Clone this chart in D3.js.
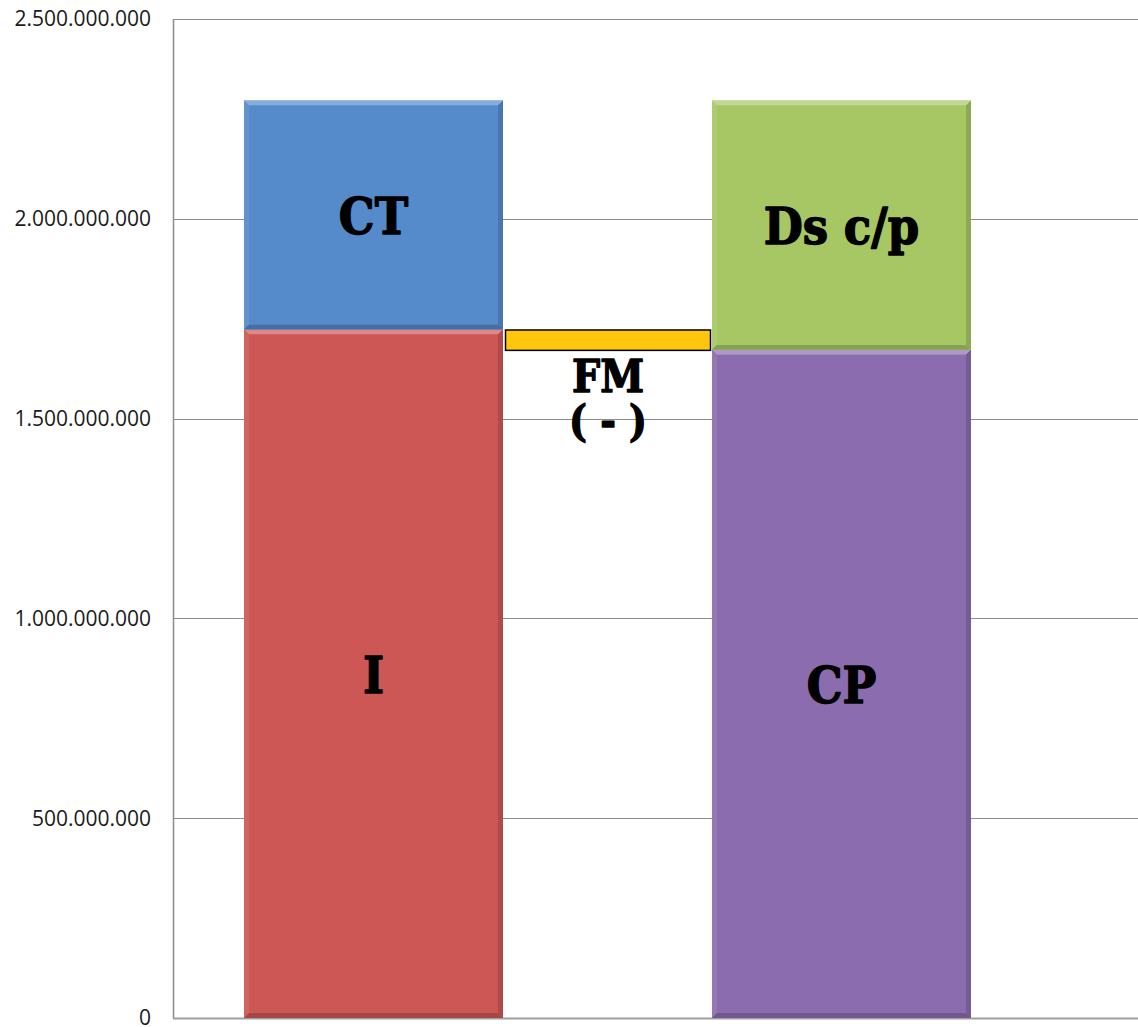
<!DOCTYPE html>
<html>
<head>
<meta charset="utf-8">
<script src="https://cdn.jsdelivr.net/npm/d3@7"></script>
<style>
  html, body { margin: 0; padding: 0; background: #fff; }
  svg { display: block; }
</style>
</head>
<body>
<svg id="chart" width="1138" height="1027"></svg>
<script>
// Balance columns: assets (left) vs. liabilities (right)
const columns = ["Activo", "Pasivo"];
const leftLabels = ["I", "CT"];
const leftValues = [1723000000, 573000000];
const rightLabels = ["CP", "Ds c/p"];
const rightValues = [1672000000, 624000000];
const gapLabel = ["FM", "( - )"];
const tickValues = [0, 500000000, 1000000000, 1500000000, 2000000000, 2500000000];

const leftColors = ["#cd5755", "#558acb"];
const rightColors = ["#8b6cae", "#a6c764"];
const gapColor = "#fec70d";

const svg = d3.select("#chart");
const plot = { left: 173, right: 1160, top: 19, bottom: 1018 };

const y = d3.scaleLinear().domain([0, 2500000000]).range([plot.bottom, plot.top]);
const x = d3.scaleBand().domain(columns).range([244, 971])
  .paddingInner(209 / 468).paddingOuter(0);
const bw = x.bandwidth();

const fmtNum = v => d3.format(",")(v).replace(/,/g, ".");

// gridlines
svg.append("g").selectAll("line").data(tickValues.filter(d => d > 0)).join("line")
  .attr("x1", plot.left).attr("x2", plot.right)
  .attr("y1", d => Math.round(y(d)) + 0.5).attr("y2", d => Math.round(y(d)) + 0.5)
  .attr("stroke", "#8c8c8c").attr("stroke-width", 1);

// axis frame
svg.append("line").attr("x1", plot.left + 0.5).attr("x2", plot.left + 0.5)
  .attr("y1", plot.top).attr("y2", plot.bottom + 1)
  .attr("stroke", "#8c8c8c").attr("stroke-width", 1.5);
svg.append("line").attr("x1", plot.left).attr("x2", plot.right)
  .attr("y1", plot.bottom + 0.5).attr("y2", plot.bottom + 0.5)
  .attr("stroke", "#a0a0a0").attr("stroke-width", 2);

// y tick labels
const yAxis = d3.axisLeft(y).tickValues(tickValues).tickFormat(fmtNum).tickSize(0).tickPadding(0);
const gy = svg.append("g").attr("transform", `translate(151,0)`).call(yAxis);
gy.select(".domain").remove();
gy.selectAll("text")
  .attr("font-family", "'Open Sans', 'Noto Sans', sans-serif")
  .attr("font-size", 21).attr("fill", "#1a1a1a").attr("dy", "0.33em");

// stack helper
function stackSegments(vals, labels, colors) {
  let acc = 0;
  return vals.map((v, i) => {
    const seg = { y0: acc, y1: acc + v, label: labels[i], color: colors[i] };
    acc += v;
    return seg;
  });
}

// bar with bevelled edges
function bevelRect(g, x0, x1, yTop, yBot, color, b) {
  const c = d3.color(color);
  g.append("rect").attr("x", x0).attr("y", yTop).attr("width", x1 - x0).attr("height", yBot - yTop)
    .attr("fill", color);
  const light = d3.interpolateRgb(color, "#ffffff")(0.3);
  const lightL = d3.interpolateRgb(color, "#ffffff")(0.08);
  const dark = c.darker(0.45).toString();
  const darkB = c.darker(0.6).toString();
  const poly = (pts, fill) => g.append("polygon")
    .attr("points", pts.map(p => p.join(",")).join(" ")).attr("fill", fill);
  poly([[x0, yTop], [x1, yTop], [x1 - b, yTop + b], [x0 + b, yTop + b]], light);
  poly([[x0, yTop], [x0 + b, yTop + b], [x0 + b, yBot - b], [x0, yBot]], lightL);
  poly([[x1, yTop], [x1, yBot], [x1 - b, yBot - b], [x1 - b, yTop + b]], dark);
  poly([[x0, yBot], [x1, yBot], [x1 - b, yBot - b], [x0 + b, yBot - b]], darkB);
  g.append("rect").attr("x", x0 + b).attr("y", yTop + b)
    .attr("width", Math.max(0, x1 - x0 - 2 * b)).attr("height", Math.max(0, yBot - yTop - 2 * b))
    .attr("fill", color);
}

const labelFont = "'DejaVu Serif', 'Liberation Serif', serif";
function barLabel(cx, cy, text, size) {
  svg.append("text")
    .attr("transform", `translate(${cx},${cy}) scale(0.9,1)`)
    .attr("text-anchor", "middle")
    .attr("font-family", labelFont).attr("font-weight", "bold")
    .attr("font-size", size).attr("fill", "#000")
    .attr("stroke", "#000").attr("stroke-width", 1.4).attr("stroke-linejoin", "round")
    .text(text);
}

const stacks = [
  { col: columns[0], segs: stackSegments(leftValues, leftLabels, leftColors) },
  { col: columns[1], segs: stackSegments(rightValues, rightLabels, rightColors) }
];

const gBars = svg.append("g");
stacks.forEach(s => {
  const x0 = x(s.col), x1 = x(s.col) + bw;
  s.segs.forEach(seg => {
    bevelRect(gBars.append("g"), x0, x1, y(seg.y1), y(seg.y0), seg.color, 5);
  });
});

// labels inside the stacked segments (baseline half a cap height below centre)
stacks.forEach(s => {
  const cx = x(s.col) + bw / 2;
  s.segs.forEach(seg => {
    const cy = (y(seg.y1) + y(seg.y0)) / 2 + 19;
    barLabel(cx, cy, seg.label, 50);
  });
});

// gap bar between the two columns: difference of the bottom segments
const gapTop = leftValues[0], gapBottom = rightValues[0];
const gx0 = x(columns[0]) + bw + 2, gx1 = x(columns[1]) - 1;
svg.append("rect")
  .attr("x", gx0 + 0.5).attr("y", y(gapTop) + 0.5)
  .attr("width", gx1 - gx0 - 1).attr("height", y(gapBottom) - y(gapTop))
  .attr("fill", gapColor).attr("stroke", "#000").attr("stroke-width", 1.5);

const gcx = (gx0 + gx1) / 2;
barLabel(gcx, y(gapBottom) + 42, gapLabel[0], 44);
barLabel(gcx, y(gapBottom) + 86, gapLabel[1], 42);
</script>
</body>
</html>
